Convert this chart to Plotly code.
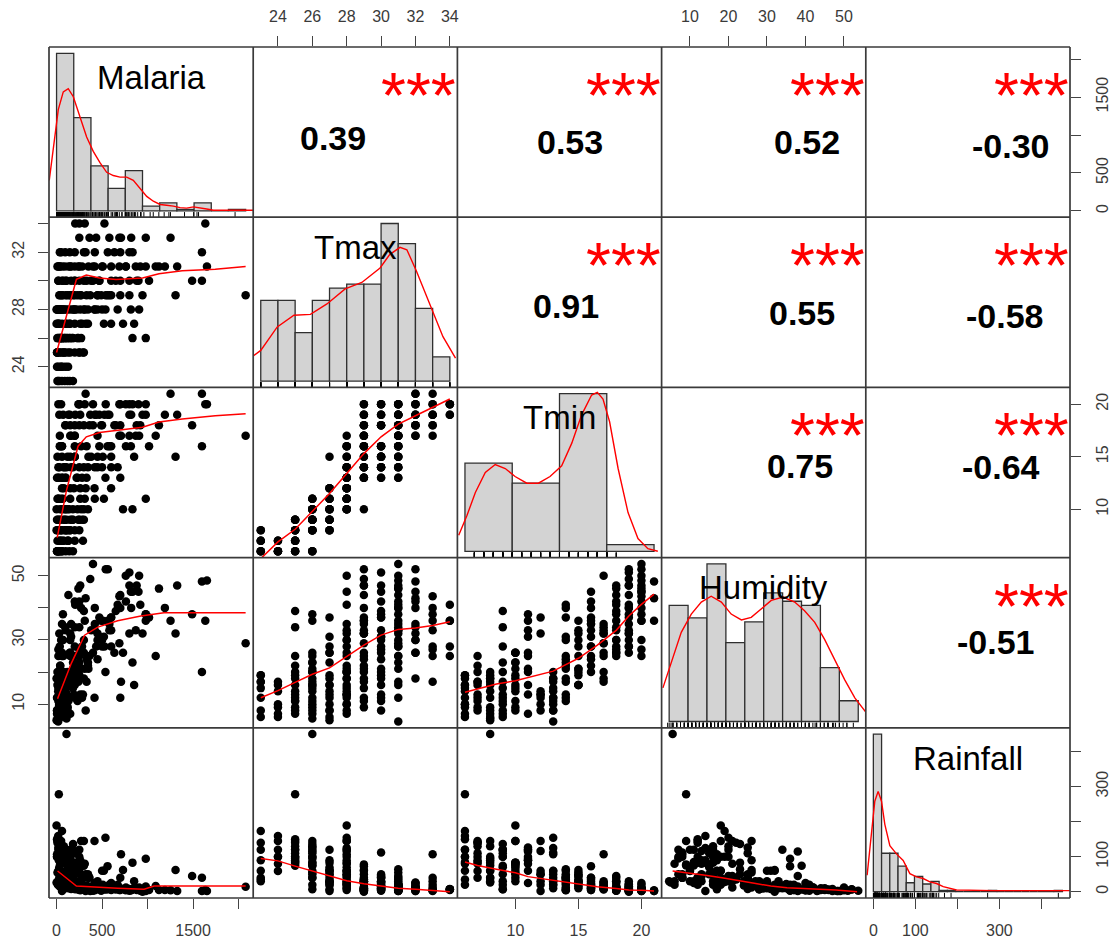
import plotly.graph_objects as go

# ---------------- observations ----------------
malaria = [
    20, 60, 35, 120, 90, 145, 18, 70, 127, 45,
    25, 5, 80, 200, 150, 10, 300, 250, 100, 40,
    109, 30, 60, 150, 181, 834, 980, 90, 20, 140,
    0, 30, 280, 730, 345, 520, 150, 599, 60, 852,
    200, 100, 0, 50, 417, 537, 100, 345, 671, 450,
    816, 200, 907, 150, 310, 5, 120, 60, 450, 1307,
    580, 270, 2077, 700, 944, 800, 200, 30, 490, 100,
    300, 600, 1016, 1489, 1597, 900, 72, 400, 200, 18,
    250, 508, 762, 1089, 1125, 1325, 1652, 400, 980, 150,
    60, 870, 36, 300, 563, 700, 1597, 319, 835, 145,
    635, 708, 362, 580, 690, 1252, 980, 435, 205, 310,
    1634, 526, 250, 10, 100, 60, 130, 250, 40, 90,
    170, 20, 5, 8, 50, 290, 240, 180, 40, 260,
    80, 220, 500, 120, 330, 600, 150, 20, 380, 700,
    320, 180, 60, 10, 230, 420, 160, 90, 350, 280,
    450, 100, 260, 650, 800, 250, 200, 500, 30, 760,
    200, 420, 50, 250, 820, 880, 600, 330, 40, 920,
    540, 130, 470, 690, 800, 20, 370, 240, 60, 150,
    110, 260, 120, 60, 180, 10, 470, 420, 30, 230,
    300, 70, 560, 270, 190, 1190, 15, 50, 80, 25,
    65, 110, 5, 140, 35, 95, 160, 200, 75, 45,
]
tmax = [
    23, 23, 23, 23, 23, 23, 24, 24, 24, 24,
    25, 25, 25, 25, 25, 25, 25, 25, 25, 25,
    26, 26, 26, 26, 26, 26, 26, 26, 26, 26,
    27, 27, 27, 27, 27, 27, 27, 27, 27, 27,
    27, 27, 28, 28, 28, 28, 28, 28, 28, 28,
    28, 28, 28, 28, 28, 28, 29, 29, 29, 29,
    29, 29, 29, 29, 29, 29, 29, 29, 29, 30,
    30, 30, 30, 30, 30, 30, 30, 30, 30, 31,
    31, 31, 31, 31, 31, 31, 31, 31, 31, 31,
    31, 31, 32, 32, 32, 32, 32, 32, 32, 32,
    32, 33, 33, 33, 33, 33, 33, 33, 34, 34,
    34, 34, 34, 23, 24, 25, 25, 25, 26, 26,
    26, 27, 25, 26, 24, 25, 26, 23, 28, 27,
    28, 28, 28, 28, 29, 29, 29, 30, 30, 30,
    27, 28, 26, 28, 29, 28, 30, 31, 31, 31,
    29, 29, 29, 30, 30, 30, 31, 31, 31, 31,
    32, 32, 32, 33, 33, 30, 31, 30, 29, 31,
    29, 31, 30, 31, 32, 30, 29, 31, 28, 29,
    27, 28, 26, 30, 29, 31, 30, 31, 28, 26,
    28, 26, 29, 26, 28, 31, 27, 26, 25, 28,
    29, 30, 24, 27, 31, 32, 31, 30, 28, 26,
]
tmin = [
    6, 6, 7, 7, 8, 8, 6, 7, 7, 6,
    6, 6, 7, 7, 8, 8, 9, 9, 8, 7,
    8, 6, 8, 9, 9, 10, 11, 10, 11, 6,
    8, 9, 9, 10, 10, 11, 11, 12, 12, 15,
    8, 10, 10, 11, 12, 13, 13, 14, 14, 15,
    16, 16, 17, 12, 11, 13, 10, 13, 14, 15,
    16, 16, 17, 18, 19, 20, 17, 14, 18, 13,
    14, 15, 16, 18, 16, 20, 19, 18, 15, 13,
    14, 15, 16, 17, 18, 19, 20, 20, 19, 18,
    16, 17, 17, 18, 19, 20, 21, 21, 20, 19,
    18, 17, 18, 19, 20, 21, 20, 19, 19, 20,
    20, 19, 20, 7, 6, 6, 7, 8, 8, 9,
    9, 8, 9, 6, 7, 7, 9, 6, 10, 11,
    12, 13, 14, 15, 13, 14, 15, 14, 15, 13,
    12, 10, 10, 11, 13, 11, 14, 14, 15, 13,
    17, 18, 19, 18, 19, 20, 17, 18, 19, 20,
    18, 19, 20, 18, 19, 18, 16, 16, 16, 18,
    20, 19, 19, 17, 17, 20, 19, 20, 16, 17,
    9, 12, 8, 15, 14, 15, 16, 14, 13, 10,
    10, 11, 16, 10, 12, 19, 9, 8, 9, 11,
    13, 14, 6, 10, 16, 18, 17, 15, 14, 9,
]
humidity = [
    15, 19, 17, 8, 6, 17, 14, 16, 17, 6,
    9, 12, 20, 25, 7, 18, 39, 34, 14, 22,
    5.5, 10, 20, 12, 23, 23, 36, 14, 25, 16,
    5, 10, 28, 26, 23, 31, 16, 37, 14, 16,
    12, 8, 18, 7, 12, 20, 10, 22, 41, 30,
    45, 28, 50, 32, 21, 8, 9, 15, 24, 32,
    35, 40, 29, 44, 32, 47, 20, 12, 36, 8,
    18, 28, 37, 38, 20, 45, 30, 26, 16, 4.6,
    23, 36, 42, 25, 46, 47, 48.5, 53.7, 38, 30,
    25, 33, 18, 30, 52, 40, 48.2, 43, 45, 26,
    26, 17, 25, 33, 43.6, 36, 38, 28, 41, 36,
    36, 28, 25, 12, 10, 16, 11, 19, 16, 7,
    20, 18, 8, 18, 9, 13, 17, 19, 16, 26,
    10, 18, 30, 20, 17, 37, 25, 11, 33, 12,
    8, 15, 26, 20, 18, 33, 31, 17, 21, 12,
    32, 33, 47, 39, 51, 42, 34, 28, 32, 50,
    42, 35, 30, 27, 40, 47, 33, 24, 22, 41,
    52, 44, 37, 29, 32, 27, 49, 46, 35, 26,
    13, 13, 9, 19, 21, 16, 31, 40, 14, 11,
    26, 38, 36, 21, 13, 40, 6, 8, 11, 13,
    11, 13, 7, 19, 28, 34, 35, 21, 25, 15,
]
rainfall = [
    120, 173, 90, 40, 30, 60, 159, 100, 59, 80,
    278, 150, 130, 110, 95, 145, 74, 120, 90, 140,
    450, 60, 40, 100, 136, 83, 94, 83, 126, 20,
    26, 70, 7, 62, 50, 60, 120, 20, 2, 30,
    83, 40, 189, 120, 145, 154, 59, 40, 20, 10,
    5, 30, 12, 60, 80, 107, 78, 50, 30, 62,
    10, 25, 14, 5, 0, 8, 30, 40, 3, 112,
    40, 25, 5, 45, 40, 10, 30, 15, 50, 30,
    64, 20, 12, 16, 5, 2, 2, 3, 15, 25,
    40, 10, 26, 15, 7, 10, 2, 2, 8, 22,
    12, 107, 40, 20, 5, 4, 2, 12, 7, 7,
    5, 7, 8, 140, 120, 85, 85, 100, 130, 50,
    120, 60, 100, 100, 145, 80, 7, 35, 83, 90,
    30, 20, 60, 45, 10, 5, 35, 25, 15, 40,
    50, 70, 55, 100, 60, 25, 8, 35, 45, 20,
    8, 30, 4, 6, 3, 12, 15, 8, 20, 4,
    10, 15, 25, 30, 4, 5, 20, 18, 35, 3,
    6, 10, 14, 9, 6, 20, 2, 6, 22, 25,
    30, 50, 75, 28, 12, 55, 10, 4, 125, 75,
    145, 115, 73, 145, 116, 5, 20, 40, 120, 90,
    30, 45, 100, 30, 15, 10, 20, 30, 50, 110,
]

var_names = ["Malaria", "Tmax", "Tmin", "Humidity", "Rainfall"]
columns = [malaria, tmax, tmin, humidity, rainfall]

# ---------------- diagonal histograms (breaks and counts) ----------------
malaria_breaks = list(range(0, 2201, 200))
malaria_counts = [98, 58, 28, 14, 25, 3, 5, 1, 5, 0, 1]
tmax_breaks = list(range(23, 35))
tmax_counts = [20, 20, 12, 20, 23, 24, 24, 39, 34, 18, 6]
tmin_breaks = [5, 10, 15, 20, 25]
tmin_counts = [66, 51, 118, 5]
humidity_breaks = list(range(5, 56, 5))
humidity_counts = [28, 25, 38, 19, 24, 31, 29, 28, 13, 5]
rainfall_breaks = list(range(0, 461, 20))
rainfall_counts = [123, 30, 30, 20, 7, 12, 6, 8, 1, 1, 0, 0, 0, 0, 1,
                   0, 0, 0, 0, 0, 0, 0, 1]

# kernel density curves, in histogram count units
dens_malaria_x = [-85, -38, 20, 78, 136, 195, 272, 350, 427, 505, 583, 660, 738, 816,
                  893, 971, 1049, 1126, 1204, 1281, 1359, 1437, 1514, 1592, 1670,
                  1747, 1825, 2058, 2290]
dens_malaria_y = [19, 38, 63, 74, 76, 71, 59, 46, 37, 30, 24, 22, 21, 21, 19, 14, 9, 6,
                  4, 3.5, 3, 2, 1.7, 2.5, 2, 1.2, 0.4, 0.4, 0.4]
dens_tmax_x = [22.52, 23, 23.96, 24.93, 25.89, 26.85, 27.91, 28.88, 29.94, 30.5, 31.1,
               31.5, 32.06, 32.83, 33.6, 34.33]
dens_tmax_y = [6.1, 7.6, 13.4, 16.3, 16.5, 19.1, 22.8, 24.4, 28, 31.3, 33.1, 32.5,
               27.2, 19.1, 11, 5.7]
dens_tmin_x = [4.34, 5.22, 6.1, 7.15, 8.2, 9.26, 10.3, 11.54, 12.77, 14.0, 15.23, 16.3,
               17.33, 18.4, 19.0, 19.6, 20.3, 21.2, 22.25, 23.3, 24.35, 25.4]
dens_tmin_y = [12, 27, 44, 59, 65, 62, 56, 51, 51, 56, 64, 81, 102, 117, 119, 114, 97,
               62, 29, 9.5, 2, 0]
dens_humidity_x = [3.35, 5.56, 8.2, 10.85, 13.5, 16.1, 18.8, 21.4, 24.1, 26.7, 29.4, 32,
                   35.1, 38.2, 40.8, 43.5, 46.1, 48.8, 51.4, 54.1, 57.2]
dens_humidity_y = [8.1, 14.2, 21.5, 25.9, 28.8, 30.2, 28.8, 25.9, 24.5, 25.1, 27.1, 29.2,
                   30, 28.8, 26.7, 23.9, 19.8, 15, 10.1, 5.7, 2]
dens_rainfall_x = [-15.2, -4.6, 3.5, 11.6, 19.8, 27.9, 40.1, 56.3, 72.5, 88.8, 105,
                   121.2, 137.5, 153.7, 170, 202.4, 291.7, 486]
dens_rainfall_y = [12.8, 47.5, 70.6, 78.3, 70.6, 52.6, 35.9, 29.5, 24.4, 14.1, 11.6,
                   10.3, 7.7, 6.4, 3.9, 1.3, 0.8, 0.8]

hist_specs = [
    (malaria_breaks, malaria_counts, dens_malaria_x, dens_malaria_y),
    (tmax_breaks, tmax_counts, dens_tmax_x, dens_tmax_y),
    (tmin_breaks, tmin_counts, dens_tmin_x, dens_tmin_y),
    (humidity_breaks, humidity_counts, dens_humidity_x, dens_humidity_y),
    (rainfall_breaks, rainfall_counts, dens_rainfall_x, dens_rainfall_y),
]

# ---------------- smoothers in the lower panels ----------------
fit_malaria_tmax_x = [0, 218, 327, 472, 654, 944, 1125, 1380, 1743, 2077]
fit_malaria_tmax_y = [25.0, 30.1, 30.4, 30.2, 30.1, 30.2, 30.5, 30.7, 30.8, 31.0]
fit_malaria_tmin_x = [7, 109, 236, 327, 472, 654, 944, 1125, 1380, 1743, 2077]
fit_malaria_tmin_y = [7.3, 11.8, 16.0, 16.9, 17.3, 17.5, 17.8, 18.3, 18.6, 18.9, 19.1]
fit_malaria_humidity_x = [11, 163, 308, 453, 671, 926, 1180, 2077]
fit_malaria_humidity_y = [11.7, 22.8, 31.5, 34.0, 36.0, 37.5, 38.5, 38.5]
fit_malaria_rainfall_x = [11, 218, 671, 962, 1071, 2077]
fit_malaria_rainfall_y = [59, 16, 10, 7, 16, 16]
fit_tmax_x = [23, 24, 25, 26, 27, 28, 29, 30, 31, 32, 33, 34]
fit_tmax_tmin_y = [5.3, 6.9, 8.1, 9.8, 11.5, 13.4, 15.3, 16.9, 18.1, 18.9, 19.7, 20.5]
fit_tmax_humidity_y = [12.0, 14.2, 16.8, 19.3, 21.3, 24.9, 28.4, 31.5, 33.3, 33.7, 34.5, 35.7]
fit_tmax_rainfall_y = [95, 88, 73, 59, 45, 31, 23, 16, 10, 7, 4, 0]
fit_tmin_x = [6, 7, 8.5, 10, 11, 13, 14, 15, 16.5, 18, 19, 20, 21]
fit_tmin_humidity_y = [13.7, 14.7, 16.3, 17.3, 18.3, 20.3, 22.3, 24.3, 28.4, 33.0, 37.5,
                       41.1, 44.3]
fit_tmin_rainfall_y = [85, 75, 64, 54, 43, 33, 26, 21, 14, 9, 5, 4, 2]
fit_humidity_rainfall_x = [5.5, 9.8, 14, 18.3, 22.5, 26.7, 31, 35.2, 39.4, 43.7, 47.9, 53.4]
fit_humidity_rainfall_y = [59, 54, 47, 40, 31, 24, 16, 11, 9, 7, 5, 0]

fits = {
    (1, 0): (fit_malaria_tmax_x, fit_malaria_tmax_y),
    (2, 0): (fit_malaria_tmin_x, fit_malaria_tmin_y),
    (3, 0): (fit_malaria_humidity_x, fit_malaria_humidity_y),
    (4, 0): (fit_malaria_rainfall_x, fit_malaria_rainfall_y),
    (2, 1): (fit_tmax_x, fit_tmax_tmin_y),
    (3, 1): (fit_tmax_x, fit_tmax_humidity_y),
    (4, 1): (fit_tmax_x, fit_tmax_rainfall_y),
    (3, 2): (fit_tmin_x, fit_tmin_humidity_y),
    (4, 2): (fit_tmin_x, fit_tmin_rainfall_y),
    (4, 3): (fit_humidity_rainfall_x, fit_humidity_rainfall_y),
}

# ---------------- correlations in the upper panels ----------------
corr_labels = {
    (0, 1): "0.39", (0, 2): "0.53", (0, 3): "0.52", (0, 4): "-0.30",
    (1, 2): "0.91", (1, 3): "0.55", (1, 4): "-0.58",
    (2, 3): "0.75", (2, 4): "-0.64",
    (3, 4): "-0.51",
}
signif_stars = "***"
# label centre as a fraction of the panel (from left, from top)
corr_pos = {
    (0, 1): (0.39, 0.535), (0, 2): (0.55, 0.56), (0, 3): (0.71, 0.56), (0, 4): (0.71, 0.58),
    (1, 2): (0.53, 0.52), (1, 3): (0.69, 0.56), (1, 4): (0.68, 0.58),
    (2, 3): (0.68, 0.46), (2, 4): (0.66, 0.47),
    (3, 4): (0.64, 0.495),
}

# ---------------- outer axis ticks ----------------
malaria_ticks = [0, 500, 1000, 1500, 2000]
malaria_ticktext = ["0", "500", "", "1500", ""]
tmax_ticks = [24, 26, 28, 30, 32, 34]
tmax_ticktext_top = ["24", "26", "28", "30", "32", "34"]
tmax_ticktext_side = ["24", "", "28", "", "32", ""]
tmin_ticks = [10, 15, 20]
tmin_ticktext = ["10", "15", "20"]
humidity_ticks = [10, 20, 30, 40, 50]
humidity_ticktext_top = ["10", "20", "30", "40", "50"]
humidity_ticktext_side = ["10", "", "30", "", "50"]
rainfall_ticks = [0, 100, 200, 300, 400]
rainfall_ticktext = ["0", "100", "", "300", ""]

# ---------------- geometry ----------------
W, H = 1117, 941
X0, X1, Y0, Y1 = 49, 1070, 47, 898
N = 5
PW = (X1 - X0) / N
PH = (Y1 - Y0) / N
FONT = "Liberation Sans, Arial, sans-serif"


def fx(px):
    return px / W


def fy(py):
    return 1 - py / H


def usr(values):
    lo, hi = min(values), max(values)
    pad = 0.04 * (hi - lo)
    return [lo - pad, hi + pad]


ranges = [usr(c) for c in columns]

tick_style = dict(ticks="outside", ticklen=10, tickwidth=1.3, tickcolor="#444444",
                  showticklabels=True, ticklabelstandoff=8,
                  tickfont=dict(family=FONT, size=16, color="#3a3a3a"))


def base_axis(rng, dom=None):
    ax = dict(range=rng, showgrid=False, zeroline=False, showline=False,
              showticklabels=False, ticks="", fixedrange=True)
    if dom is not None:
        ax["domain"] = dom
    return ax


fig = go.Figure()
layout = {}
annotations = []

for i in range(N):
    for j in range(N):
        k = i * N + j + 1
        xr = "x" if k == 1 else f"x{k}"
        yr = "y" if k == 1 else f"y{k}"
        xkey = "xaxis" if k == 1 else f"xaxis{k}"
        ykey = "yaxis" if k == 1 else f"yaxis{k}"
        xdom = [fx(X0 + j * PW), fx(X0 + (j + 1) * PW)]
        ydom = [fy(Y0 + (i + 1) * PH), fy(Y0 + i * PH)]

        if i == j:
            breaks, counts, dx, dy = hist_specs[i]
            span = breaks[-1] - breaks[0]
            hmax = max(counts)
            xrng = [breaks[0] - 0.04 * span, breaks[-1] + 0.04 * span]
            yrng = [-0.04 * hmax, 1.04 * hmax]
            centers = [(breaks[b] + breaks[b + 1]) / 2 for b in range(len(counts))]
            widths = [breaks[b + 1] - breaks[b] for b in range(len(counts))]
            fig.add_trace(go.Bar(x=centers, y=counts, width=widths, xaxis=xr, yaxis=yr,
                                 marker=dict(color="#d3d3d3",
                                             line=dict(color="#2f2f2f", width=1.3)),
                                 showlegend=False, hoverinfo="skip"))
            fig.add_trace(go.Scatter(x=dx, y=dy, mode="lines", xaxis=xr, yaxis=yr,
                                     line=dict(color="#ff0000", width=1.4),
                                     showlegend=False, hoverinfo="skip"))
            # rug along the bottom edge
            y_lo = yrng[0]
            y_hi = yrng[0] + 0.03 * (yrng[1] - yrng[0])
            rx, ry = [], []
            for v in columns[i]:
                rx += [v, v, None]
                ry += [y_lo, y_hi, None]
            fig.add_trace(go.Scatter(x=rx, y=ry, mode="lines", xaxis=xr, yaxis=yr,
                                     line=dict(color="#000000", width=1),
                                     showlegend=False, hoverinfo="skip"))
            layout[xkey] = base_axis(xrng, xdom)
            layout[xkey]["anchor"] = yr
            layout[ykey] = base_axis(yrng, ydom)
            layout[ykey]["anchor"] = xr
            annotations.append(dict(
                x=fx(X0 + (j + 0.5) * PW), y=fy(Y0 + i * PH + 0.178 * PH),
                xref="paper", yref="paper", text=var_names[i], showarrow=False,
                xanchor="center", yanchor="middle",
                font=dict(family=FONT, size=33, color="#000000")))
        else:
            layout[xkey] = base_axis(ranges[j], xdom)
            layout[xkey]["anchor"] = yr
            layout[ykey] = base_axis(ranges[i], ydom)
            layout[ykey]["anchor"] = xr
            if i > j:
                fig.add_trace(go.Scatter(x=columns[j], y=columns[i], mode="markers",
                                         xaxis=xr, yaxis=yr,
                                         marker=dict(color="#000000", size=8.5,
                                                     line=dict(width=0)),
                                         showlegend=False, hoverinfo="skip"))
                fxs, fys = fits[(i, j)]
                fig.add_trace(go.Scatter(x=fxs, y=fys, mode="lines", xaxis=xr, yaxis=yr,
                                         line=dict(color="#ff0000", width=1.5),
                                         showlegend=False, hoverinfo="skip"))
            else:
                fig.add_trace(go.Scatter(x=[None], y=[None], mode="markers",
                                         xaxis=xr, yaxis=yr, showlegend=False,
                                         hoverinfo="skip"))
                px_, py_ = corr_pos[(i, j)]
                annotations.append(dict(
                    x=fx(X0 + (j + px_) * PW), y=fy(Y0 + (i + py_) * PH),
                    xref="paper", yref="paper", text="<b>%s</b>" % corr_labels[(i, j)],
                    showarrow=False, xanchor="center", yanchor="middle",
                    font=dict(family=FONT, size=34, color="#000000")))
                annotations.append(dict(
                    x=fx(X0 + (j + 1) * PW + 1), y=fy(Y0 + i * PH + 49),
                    xref="paper", yref="paper", text=signif_stars,
                    showarrow=False, xanchor="right", yanchor="middle",
                    font=dict(family=FONT, size=64, color="#ff0000")))


def k_of(i, j):
    return i * N + j + 1


def axkey(prefix, k):
    return prefix if k == 1 else f"{prefix}{k}"


# top axes (Tmax, Humidity)
layout[axkey("xaxis", k_of(0, 1))].update(tick_style, side="top", tickvals=tmax_ticks,
                                          ticktext=tmax_ticktext_top)
layout[axkey("xaxis", k_of(0, 3))].update(tick_style, side="top", tickvals=humidity_ticks,
                                          ticktext=humidity_ticktext_top)
# bottom axes (Malaria, Tmin)
layout[axkey("xaxis", k_of(4, 0))].update(tick_style, side="bottom", tickvals=malaria_ticks,
                                          ticktext=malaria_ticktext)
layout[axkey("xaxis", k_of(4, 2))].update(tick_style, side="bottom", tickvals=tmin_ticks,
                                          ticktext=tmin_ticktext)
# left axes (Tmax, Humidity)
layout[axkey("yaxis", k_of(1, 0))].update(tick_style, side="left", tickvals=tmax_ticks,
                                          ticktext=tmax_ticktext_side, tickangle=-90)
layout[axkey("yaxis", k_of(3, 0))].update(tick_style, side="left", tickvals=humidity_ticks,
                                          ticktext=humidity_ticktext_side, tickangle=-90)
# right axes (Malaria, Tmin)
layout[axkey("yaxis", k_of(0, 4))].update(tick_style, side="right", tickvals=malaria_ticks,
                                          ticktext=malaria_ticktext, tickangle=-90)
layout[axkey("yaxis", k_of(2, 4))].update(tick_style, side="right", tickvals=tmin_ticks,
                                          ticktext=tmin_ticktext, tickangle=-90)

# Rainfall scale on the last diagonal panel (bottom and right)
kr = N * N + 1
layout[f"xaxis{kr}"] = dict(base_axis(ranges[4]), overlaying=f"x{N * N}", anchor=f"y{kr}")
layout[f"xaxis{kr}"].update(tick_style, side="bottom", tickvals=rainfall_ticks,
                            ticktext=rainfall_ticktext)
layout[f"yaxis{kr}"] = dict(base_axis(ranges[4]), overlaying=f"y{N * N}", anchor=f"x{kr}")
layout[f"yaxis{kr}"].update(tick_style, side="right", tickvals=rainfall_ticks,
                            ticktext=rainfall_ticktext, tickangle=-90)
fig.add_trace(go.Scatter(x=[None], y=[None], mode="markers", xaxis=f"x{kr}",
                         yaxis=f"y{kr}", showlegend=False, hoverinfo="skip"))

# panel frame
shapes = []
for b in range(N + 1):
    xv = fx(X0 + b * PW)
    shapes.append(dict(type="line", xref="paper", yref="paper", x0=xv, x1=xv,
                       y0=fy(Y0), y1=fy(Y1), line=dict(color="#3a3a3a", width=1.7),
                       layer="above"))
    yv = fy(Y0 + b * PH)
    shapes.append(dict(type="line", xref="paper", yref="paper", x0=fx(X0), x1=fx(X1),
                       y0=yv, y1=yv, line=dict(color="#3a3a3a", width=1.7),
                       layer="above"))

fig.update_layout(
    width=W, height=H,
    margin=dict(l=0, r=0, t=0, b=0),
    paper_bgcolor="#ffffff", plot_bgcolor="#ffffff",
    barmode="overlay", showlegend=False,
    annotations=annotations, shapes=shapes,
    **layout,
)

fig.write_html("out.html")
